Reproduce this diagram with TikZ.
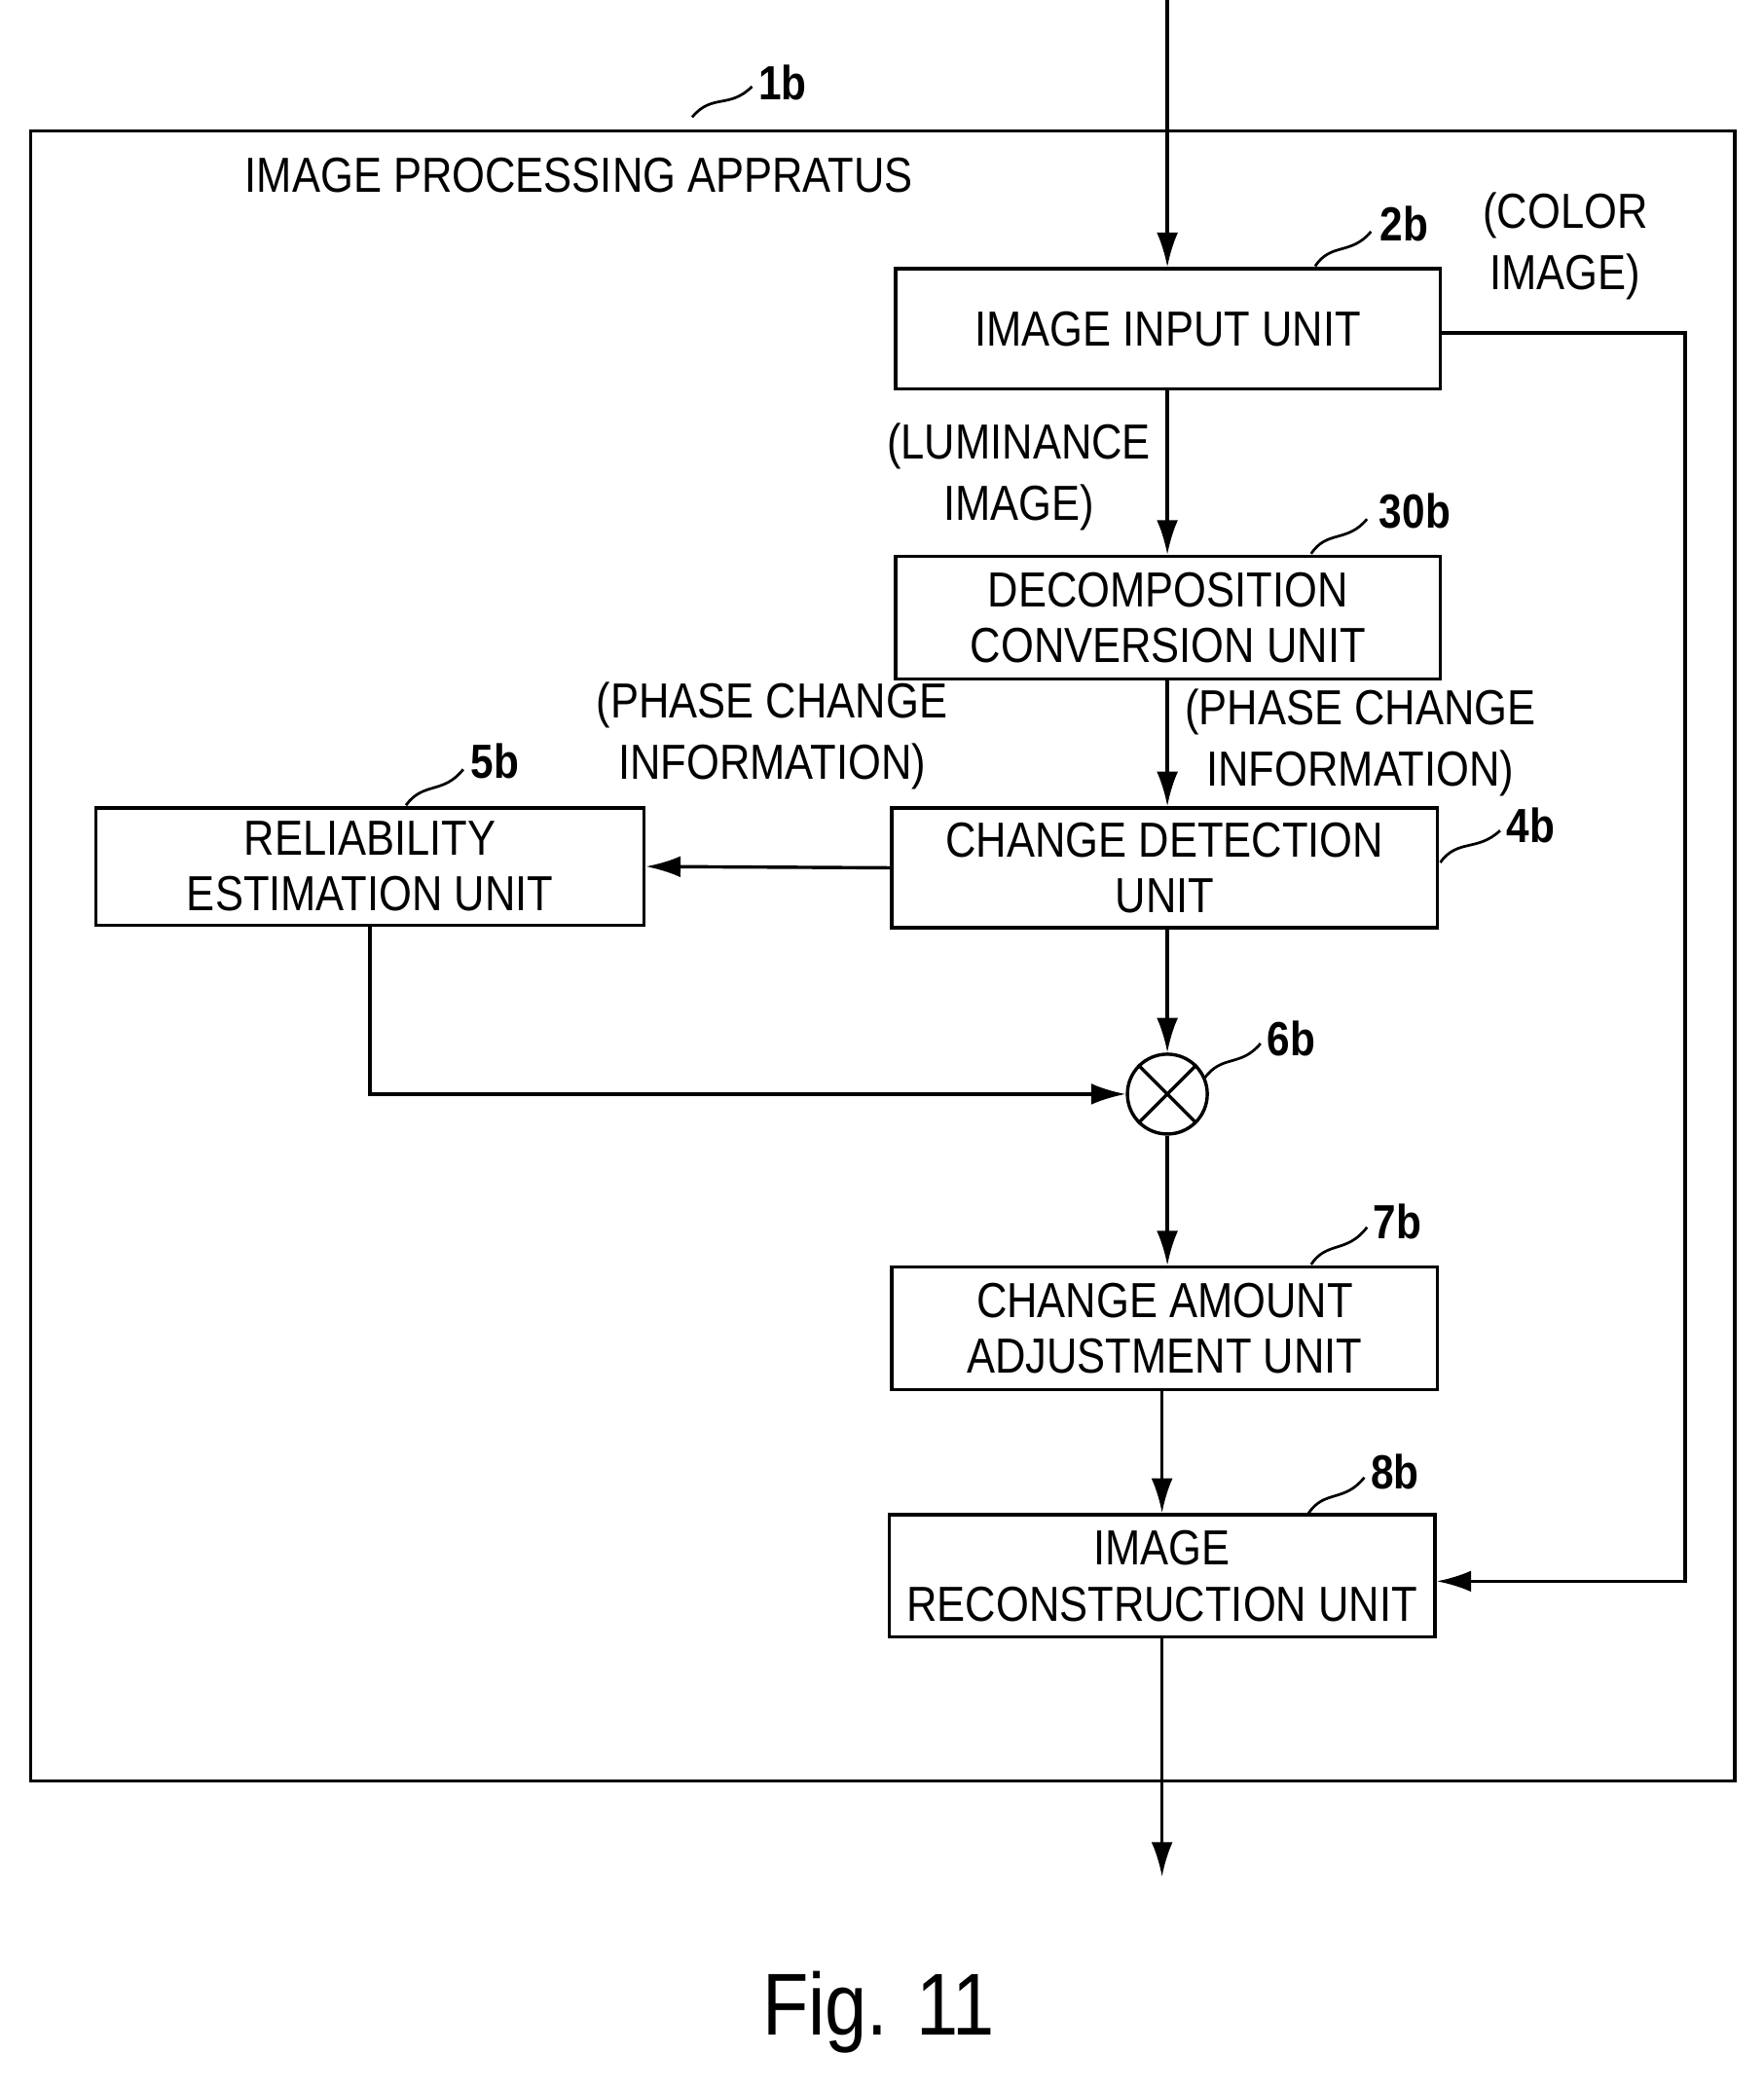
\documentclass[tikz,border=0pt]{standalone}
\usepackage{fontspec}
\setmainfont{Liberation Sans}[FakeStretch=0.86]
\usetikzlibrary{arrows.meta}
\begin{document}
\begin{tikzpicture}[x=1pt,y=-1pt,
  box/.style={draw,line width=2.5pt,inner sep=0pt,align=center,font=\fontsize{37}{42}\selectfont},
  lab/.style={font=\fontsize{37}{46}\selectfont,align=center},
  ref/.style={font=\bfseries\fontsize{36}{40}\selectfont},
  arr/.style={line width=2.5pt,-{Latex[length=26pt,width=16pt]}},
  ln/.style={line width=2pt}]
\useasboundingbox (0,0) rectangle (1325,1571);
\node[draw,line width=2.5pt,minimum width=1280,minimum height=1240,anchor=north west] (frame) at (22,97) {};
\node[box,minimum width=409,minimum height=90] (in) at (877.5,247) {IMAGE INPUT UNIT};
\node[box,minimum width=409,minimum height=92] (dec) at (877.5,464) {DECOMPOSITION\\CONVERSION UNIT};
\node[box,minimum width=410,minimum height=90] (cd) at (875,652) {CHANGE DETECTION\\UNIT};
\node[box,minimum width=412,minimum height=88] (rel) at (278,651) {RELIABILITY\\ESTIMATION UNIT};
\node[draw,circle,line width=2.5pt,minimum size=60] (mul) at (877,822) {};
\draw[line width=2.5pt] (mul.north west) -- (mul.south east) (mul.north east) -- (mul.south west);
\node[box,minimum width=410,minimum height=92] (ca) at (875,998) {CHANGE AMOUNT\\ADJUSTMENT UNIT};
\node[box,minimum width=410,minimum height=92] (rc) at (873,1184) {IMAGE\\RECONSTRUCTION UNIT};
\coordinate (top) at (877,0);
\coordinate (bot) at (873,1410);
\coordinate (c1) at (1266,250);
\coordinate (c2) at (1266,1188);
\coordinate (r1) at (278,822);
\draw[arr] (top) -- (in.north -| top);
\draw[arr] (in.south -| top) -- (dec.north -| top);
\draw[arr] (dec.south -| top) -- (cd.north -| top);
\draw[arr] (cd.west) -- (rel.east);
\draw[arr] (cd.south -| mul) -- (mul.north);
\draw[arr] (rel.south) -- (r1) -- (mul.west);
\draw[arr] (mul.south) -- (ca.north -| mul);
\draw[arr] (ca.south -| rc) -- (rc.north);
\draw[arr] (rc.south) -- (bot);
\draw[arr] (in.east |- c1) -- (c1) -- (c2) -- (rc.east |- c2);
\node[lab] (t1) at (435,132) {IMAGE PROCESSING APPRATUS};
\node[lab] (t2) at (1176,185) {(COLOR\\IMAGE)};
\node[lab,anchor=east] (t3) at (868,358) {(LUMINANCE\\IMAGE)};
\node[lab] (t4) at (1022,558) {(PHASE CHANGE\\INFORMATION)};
\node[lab] (t5) at (580,553) {(PHASE CHANGE\\INFORMATION)};
\node[ref] (n1) at (588,62) {1b};
\draw[ln] (520,88) .. controls (535,70) and (548,82) .. (565,65);
\node[ref] (n2) at (1055,168) {2b};
\draw[ln] (988,200) .. controls (1000,182) and (1015,192) .. (1030,174);
\node[ref] (n3) at (1063,384) {30b};
\draw[ln] (985,416) .. controls (997,398) and (1012,408) .. (1027,390);
\node[ref] (n4) at (1150,620) {4b};
\draw[ln] (1082,648) .. controls (1095,630) and (1110,640) .. (1127,624);
\node[ref] (n5) at (372,572) {5b};
\draw[ln] (305,605) .. controls (318,587) and (333,597) .. (348,578);
\node[ref] (n6) at (970,780) {6b};
\draw[ln] (905,810) .. controls (918,792) and (932,802) .. (947,784);
\node[ref] (n7) at (1050,918) {7b};
\draw[ln] (985,950) .. controls (997,932) and (1012,942) .. (1027,922);
\node[ref] (n8) at (1048,1106) {8b};
\draw[ln] (983,1137) .. controls (995,1119) and (1010,1129) .. (1025,1110);
\node[font=\fontsize{66}{72}\selectfont] (fig) at (660,1512) {Fig. 11};
\end{tikzpicture}
\end{document}
